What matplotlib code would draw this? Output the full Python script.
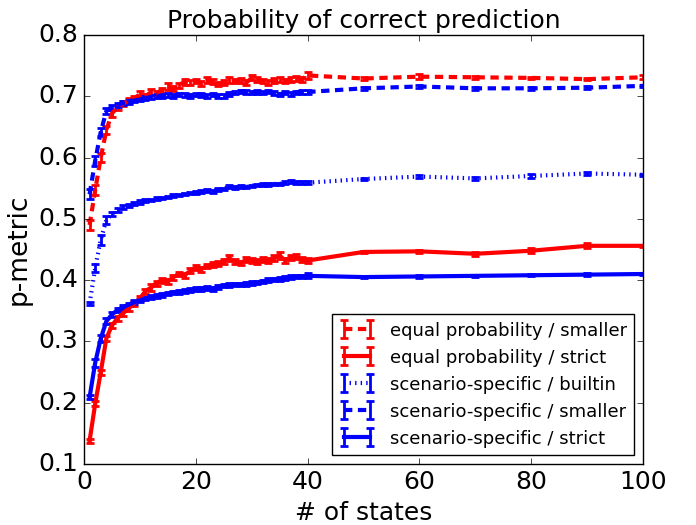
import matplotlib
matplotlib.use("Agg")
import matplotlib.pyplot as plt

plt.style.use('classic')
plt.rcParams['lines.scale_dashes'] = False

x_states = list(range(1, 41)) + [50, 60, 70, 80, 90, 100]

eq_smaller = [0.490, 0.547, 0.600, 0.645, 0.672, 0.682, 0.688, 0.693, 0.697, 0.703,
              0.700, 0.707, 0.705, 0.710, 0.716, 0.712, 0.718, 0.724, 0.722, 0.725,
              0.721, 0.726, 0.724, 0.720, 0.722, 0.727, 0.725, 0.726, 0.722, 0.730,
              0.728, 0.725, 0.722, 0.726, 0.727, 0.725, 0.728, 0.729, 0.728, 0.734,
              0.729, 0.732, 0.731, 0.730, 0.728, 0.731]
eq_smaller_err = [0.008, 0.008, 0.008, 0.007, 0.005, 0.004, 0.004, 0.004, 0.004, 0.005,
                  0.004, 0.005, 0.004, 0.004, 0.005, 0.004, 0.004, 0.005, 0.004, 0.004,
                  0.004, 0.005, 0.004, 0.004, 0.004, 0.005, 0.004, 0.004, 0.004, 0.004,
                  0.004, 0.004, 0.004, 0.004, 0.004, 0.004, 0.004, 0.004, 0.004, 0.005,
                  0.002, 0.004, 0.002, 0.002, 0.002, 0.003]

eq_strict = [0.138, 0.198, 0.250, 0.305, 0.326, 0.338, 0.346, 0.354, 0.362, 0.370,
             0.382, 0.388, 0.395, 0.400, 0.398, 0.405, 0.410, 0.408, 0.415, 0.420,
             0.418, 0.423, 0.425, 0.427, 0.430, 0.436, 0.430, 0.428, 0.433, 0.432,
             0.430, 0.433, 0.432, 0.436, 0.440, 0.432, 0.437, 0.438, 0.433, 0.432,
             0.446, 0.447, 0.443, 0.448, 0.456, 0.456]
eq_strict_err = [0.003, 0.004, 0.004, 0.004, 0.004, 0.004, 0.004, 0.004, 0.004, 0.004,
                 0.004, 0.005, 0.004, 0.004, 0.004, 0.004, 0.004, 0.004, 0.004, 0.004,
                 0.004, 0.004, 0.004, 0.004, 0.004, 0.005, 0.004, 0.004, 0.004, 0.004,
                 0.004, 0.004, 0.004, 0.005, 0.006, 0.004, 0.004, 0.004, 0.004, 0.004,
                 0.002, 0.003, 0.003, 0.004, 0.004, 0.002]

sc_builtin = [0.362, 0.420, 0.466, 0.498, 0.508, 0.515, 0.519, 0.522, 0.525, 0.528,
              0.530, 0.531, 0.533, 0.534, 0.536, 0.538, 0.539, 0.541, 0.542, 0.543,
              0.545, 0.546, 0.545, 0.548, 0.549, 0.553, 0.551, 0.553, 0.552, 0.554,
              0.555, 0.556, 0.556, 0.557, 0.557, 0.559, 0.561, 0.559, 0.559, 0.559,
              0.565, 0.569, 0.566, 0.570, 0.574, 0.572]
sc_builtin_err = [0.002, 0.007, 0.008, 0.006, 0.004, 0.003, 0.003, 0.003, 0.003, 0.003,
                  0.002, 0.002, 0.002, 0.002, 0.002, 0.002, 0.002, 0.002, 0.002, 0.002,
                  0.002, 0.002, 0.002, 0.002, 0.002, 0.002, 0.002, 0.002, 0.002, 0.002,
                  0.002, 0.002, 0.002, 0.002, 0.002, 0.002, 0.002, 0.002, 0.002, 0.002,
                  0.002, 0.002, 0.002, 0.003, 0.002, 0.002]

sc_smaller = [0.540, 0.595, 0.642, 0.676, 0.682, 0.686, 0.689, 0.691, 0.693, 0.695,
              0.697, 0.699, 0.700, 0.701, 0.702, 0.700, 0.703, 0.702, 0.701, 0.703,
              0.702, 0.701, 0.703, 0.700, 0.701, 0.704, 0.706, 0.708, 0.707, 0.706,
              0.707, 0.706, 0.708, 0.705, 0.703, 0.706, 0.704, 0.706, 0.707, 0.707,
              0.713, 0.716, 0.713, 0.713, 0.714, 0.717]
sc_smaller_err = [0.008, 0.008, 0.007, 0.005, 0.004, 0.003, 0.003, 0.003, 0.003, 0.003,
                  0.003, 0.003, 0.003, 0.003, 0.003, 0.003, 0.003, 0.003, 0.003, 0.003,
                  0.003, 0.003, 0.003, 0.003, 0.003, 0.003, 0.003, 0.003, 0.003, 0.003,
                  0.003, 0.003, 0.003, 0.003, 0.003, 0.003, 0.003, 0.003, 0.003, 0.003,
                  0.002, 0.002, 0.002, 0.002, 0.002, 0.002]

sc_strict = [0.209, 0.265, 0.305, 0.333, 0.344, 0.351, 0.356, 0.360, 0.364, 0.367,
             0.370, 0.372, 0.374, 0.376, 0.378, 0.380, 0.381, 0.382, 0.384, 0.385,
             0.386, 0.387, 0.386, 0.389, 0.391, 0.392, 0.393, 0.393, 0.394, 0.395,
             0.396, 0.398, 0.400, 0.401, 0.402, 0.404, 0.405, 0.406, 0.406, 0.407,
             0.405, 0.406, 0.407, 0.408, 0.409, 0.410]
sc_strict_err = [0.003, 0.006, 0.006, 0.005, 0.004, 0.003, 0.003, 0.003, 0.003, 0.003,
                 0.003, 0.003, 0.003, 0.003, 0.003, 0.003, 0.003, 0.003, 0.003, 0.003,
                 0.003, 0.003, 0.003, 0.003, 0.003, 0.003, 0.003, 0.003, 0.003, 0.003,
                 0.003, 0.003, 0.003, 0.003, 0.003, 0.003, 0.003, 0.003, 0.003, 0.004,
                 0.002, 0.002, 0.002, 0.002, 0.002, 0.002]

series = [
    ("equal probability / smaller", eq_smaller, eq_smaller_err, "red", (0, (6, 4))),
    ("equal probability / strict", eq_strict, eq_strict_err, "red", "-"),
    ("scenario-specific / builtin", sc_builtin, sc_builtin_err, "blue", (0, (1, 3))),
    ("scenario-specific / smaller", sc_smaller, sc_smaller_err, "blue", (0, (6, 4))),
    ("scenario-specific / strict", sc_strict, sc_strict_err, "blue", "-"),
]

fig = plt.figure(figsize=(6.96, 5.25), dpi=100)
ax = fig.add_axes([84 / 696, 1 - 464 / 525, (643 - 84) / 696, (464 - 35) / 525])

for label, vals, errs, color, ls in series:
    ax.errorbar(x_states, vals, yerr=errs, color=color, ecolor=color,
                linestyle=ls, linewidth=3, elinewidth=2, capsize=3, capthick=2,
                dash_capstyle='butt', label=label)

ax.set_xlim(0, 100)
ax.set_ylim(0.1, 0.8)
ax.set_xticks([0, 20, 40, 60, 80, 100])
ax.set_yticks([0.1, 0.2, 0.3, 0.4, 0.5, 0.6, 0.7, 0.8])
ax.tick_params(labelsize=18)
ax.set_xlabel("# of states", fontsize=18)
ax.set_ylabel("p-metric", fontsize=19)
ax.set_title("Probability of correct prediction", fontsize=18)

leg = ax.legend(loc="lower right", fontsize=13, numpoints=2, handlelength=2.0,
                borderaxespad=0.5, fancybox=False)

fig.savefig("out.png", dpi=100)
